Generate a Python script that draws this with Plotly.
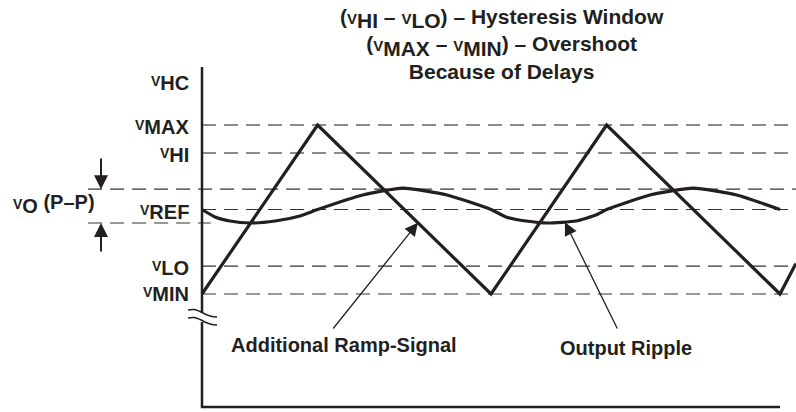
import plotly.graph_objects as go

# ---------------- data (time in arbitrary units, voltage in arbitrary units) -------------
LEVEL_NAMES = ["V_MAX", "V_HI", "V_O_HI", "V_REF", "V_O_LO", "V_LO", "V_MIN"]
LEVEL_VALUES = [10.0, 8.35, 6.2, 5.0, 4.2, 1.65, 0.0]

RAMP_T = [0.0, 4.0, 10.0, 14.0, 20.0, 20.55]
RAMP_V = [0.0, 10.0, 0.0, 10.0, 0.0, 1.8]

RIPPLE_T = [0.0, 0.45, 0.97, 1.66, 2.53, 3.39, 4.0, 5.56, 6.95, 8.48, 10.0,
            10.52, 11.21, 11.97, 12.94, 13.63, 14.0, 15.5, 17.0, 18.5, 20.0]
RIPPLE_V = [5.0, 4.56, 4.32, 4.2, 4.32, 4.62, 5.0, 5.86, 6.27, 5.86, 5.0,
            4.56, 4.32, 4.2, 4.32, 4.67, 5.0, 5.86, 6.27, 5.86, 5.0]

AXIS_TOP = 13.43
AXIS_BOTTOM = -6.69
T_END_AXIS = 20.0
T_RIGHT = 20.55
T_LEFT_VO = -3.94

# ---------------- helpers (pixel -> data) -------------
PX_T = 28.9      # px per time unit
PX_V = 16.9      # px per voltage unit
X0_PX = 202
Y0_PX = 294
W, H = 796, 412


def X(px):
    return (px - X0_PX) / PX_T


def Y(py):
    return (Y0_PX - py) / PX_V


INK = "#231f20"
FS = 20
FONT = dict(family="Liberation Sans, Arial, sans-serif", size=FS, color=INK, weight=700)
TFS = 21
TFONT = dict(FONT, size=TFS)

fig = go.Figure()

lv = dict(zip(LEVEL_NAMES, LEVEL_VALUES))


def dashed(t0, t1, v, color="#333333", width=1.2):
    fig.add_trace(go.Scatter(x=[t0, t1], y=[v, v], mode="lines",
                             line=dict(color=color, width=width, dash="14px,8px"),
                             hoverinfo="skip", showlegend=False))


dashed(0, T_RIGHT, lv["V_MAX"], "#666666", 1.5)
dashed(0, T_RIGHT, lv["V_HI"], "#666666", 1.5)
dashed(T_LEFT_VO, T_RIGHT, lv["V_O_HI"])
dashed(0, T_RIGHT, lv["V_REF"])
dashed(T_LEFT_VO, 0.3, lv["V_O_LO"])
dashed(0, T_RIGHT, lv["V_LO"])
dashed(0, T_RIGHT, lv["V_MIN"])

# ramp signal
fig.add_trace(go.Scatter(x=RAMP_T, y=RAMP_V, mode="lines",
                         line=dict(color=INK, width=3.2), hoverinfo="skip", showlegend=False))
# output ripple
fig.add_trace(go.Scatter(x=RIPPLE_T, y=RIPPLE_V, mode="lines",
                         line=dict(color=INK, width=3.2, shape="spline", smoothing=0.5),
                         hoverinfo="skip", showlegend=False))

# axes with break
BREAK_TOP = Y(313)
BREAK_BOT = Y(322)
fig.add_trace(go.Scatter(x=[0, 0], y=[AXIS_TOP, BREAK_TOP], mode="lines",
                         line=dict(color=INK, width=2.5), hoverinfo="skip", showlegend=False))
fig.add_trace(go.Scatter(x=[0, 0, T_END_AXIS], y=[BREAK_BOT, AXIS_BOTTOM, AXIS_BOTTOM], mode="lines",
                         line=dict(color=INK, width=2.5), hoverinfo="skip", showlegend=False))
for off in (0, 8):
    xs = [X(p) for p in (188, 194, 200, 206, 212, 217)]
    ys = [Y(p + off) for p in (310, 309.5, 311.5, 314.5, 316.5, 317)]
    fig.add_trace(go.Scatter(x=xs, y=ys, mode="lines",
                             line=dict(color=INK, width=1.5, shape="spline"),
                             hoverinfo="skip", showlegend=False))

ann = []


def label(text, px, py, xanchor="right", font=FONT):
    ann.append(dict(text=text, x=px / W, y=1 - py / H, xref="paper", yref="paper",
                    xanchor=xanchor, yanchor="middle", showarrow=False, font=font,
                    borderpad=0))


def vl(sub, fs=FS):
    return ("<span style='font-size:%dpx'>V</span><sub><span style='font-size:%dpx'>%s</span></sub>"
            % (round(fs * 0.72), fs, sub))


label(vl("HC"), 190, 83)
label(vl("MAX"), 190, 127)
label(vl("HI"), 190, 155)
label(vl("REF"), 190, 212)
label(vl("LO"), 190, 268)
label(vl("MIN"), 190, 294)
label(vl("O") + " (P–P)", 12, 204, xanchor="left")

TITLE_LINES = [
    "(" + vl("HI", TFS) + " – " + vl("LO", TFS) + ") – Hysteresis Window",
    "(" + vl("MAX", TFS) + " – " + vl("MIN", TFS) + ") – Overshoot",
    "Because of Delays",
]
label("<br>".join(TITLE_LINES), 502, 44, xanchor="center", font=TFONT)

label("Additional Ramp-Signal", 230, 345, xanchor="left")
label("Output Ripple", 559, 348, xanchor="left")


def arrow(tip_t, tip_v, tail_t, tail_v, head, size, width):
    ann.append(dict(text="", x=tip_t, y=tip_v, xref="x", yref="y",
                    ax=tail_t, ay=tail_v, axref="x", ayref="y", showarrow=True,
                    arrowhead=head, arrowsize=size, arrowwidth=width, arrowcolor=INK,
                    standoff=0, startstandoff=0))


arrow(X(101), lv["V_O_HI"], X(101), Y(157), 2, 1.4, 2.0)
arrow(X(101), lv["V_O_LO"], X(101), Y(253), 2, 1.4, 2.0)
arrow(7.47, 4.22, X(332), Y(330), 2, 2.0, 1.3)
arrow(12.56, 4.25, X(618), Y(330), 2, 2.0, 1.3)

fig.update_layout(
    width=W, height=H, margin=dict(l=0, r=0, t=0, b=0),
    paper_bgcolor="white", plot_bgcolor="white",
    xaxis=dict(range=[X(0), X(W)], visible=False, fixedrange=True),
    yaxis=dict(range=[Y(H), Y(0)], visible=False, fixedrange=True),
    annotations=ann, showlegend=False,
)

fig.write_html("out.html", config={"displayModeBar": False},
               post_script="document.body.style.margin='0px';")
